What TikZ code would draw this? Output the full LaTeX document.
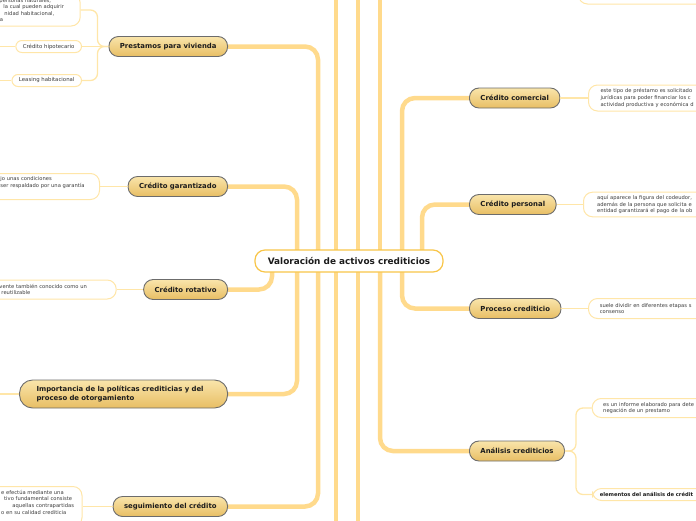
\documentclass[tikz,border=0pt]{standalone}
\usepackage{fontspec}
\setmainfont{DejaVu Sans}
\usetikzlibrary{positioning,backgrounds}
\setlength{\parindent}{0pt}
\definecolor{Ink}{HTML}{1C1C1C}
\definecolor{Grey}{HTML}{3C3C3C}
\definecolor{Trunk}{HTML}{FFDA8C}
\definecolor{Twig}{HTML}{FFE6A8}
\definecolor{Gold}{HTML}{F8C548}
\definecolor{TopHi}{HTML}{F9E5AB}
\definecolor{TopLo}{HTML}{E8BE64}
\definecolor{Edge}{HTML}{6C6C6C}
\newcommand{\pad}[1]{\hspace*{#1pt}}
\tikzset{
 every node/.style={text=Ink},
 root/.style={draw=Gold,line width=1.2pt,fill=white,rounded corners=10pt,minimum width=188pt,minimum height=22pt,font=\fontsize{8.9}{10}\selectfont\bfseries},
 topic/.style={draw=Edge,line width=.9pt,top color=TopHi,bottom color=TopLo,rounded corners=9.5pt,minimum height=20pt,inner xsep=11pt,font=\fontsize{6.9}{8}\selectfont\bfseries},
 note/.style={draw=Twig,line width=1pt,fill=white,rounded corners=9pt,align=left,inner xsep=4pt,inner ysep=3pt,text=Grey,font=\fontsize{5.2}{6.6}\selectfont},
 rnote/.style={note,anchor=west,text width=140pt,inner xsep=12pt},
 lnote/.style={note,anchor=east,text width=130pt},
 leaf/.style={note,anchor=east,rounded corners=6pt,minimum height=12pt,inner xsep=7pt,font=\fontsize{5.4}{6.5}\selectfont},
 trunk/.style={draw=Trunk,line width=4.5pt,rounded corners=13pt},
 twig/.style={draw=Twig,line width=1.3pt,rounded corners=7pt},
}
\begin{document}
\begin{tikzpicture}[x=1pt,y=-1pt]
\useasboundingbox (0,0) rectangle (696,520);
\node[root] (val) at (349,261) {Valoración de activos crediticios};
% ramas izquierda
\node[topic,anchor=east] (viv) at (228,46.5) {Prestamos para vivienda};
\node[topic,anchor=east] (gar) at (228,186.5) {Crédito garantizado};
\node[topic,anchor=east] (rot) at (228,289.5) {Crédito rotativo};
\node[topic,anchor=east,text width=174pt,inner xsep=17pt,minimum height=28pt,rounded corners=13pt,align=left,font=\fontsize{6.9}{9.4}\selectfont\bfseries] (imp) at (228,394) {Importancia de la políticas crediticias y del\\proceso de otorgamiento};
\node[topic,anchor=east] (seg) at (228,506.5) {seguimiento del crédito};
% ramas derecha
\node[topic,anchor=west] (com) at (469,98) {Crédito comercial};
\node[topic,anchor=west] (per) at (469,204.5) {Crédito personal};
\node[topic,anchor=west] (pro) at (469,308.5) {Proceso crediticio};
\node[topic,anchor=west] (ana) at (469,451) {Análisis crediticios};
% notas (texto cortado a la izquierda)
\node[lnote,minimum height=32pt] (vivn) at (80.7,10) {\pad{53.3}personas naturales,\\\pad{57.3}la cual pueden adquirir\\\pad{58.3}nidad habitacional,\\\pad{53.8}a};
\node[leaf] (hip) at (82,46.5) {Crédito hipotecario};
\node[leaf] (lea) at (82,80.5) {Leasing habitacional};
\node[lnote,minimum height=26pt] (garn) at (100,186.5) {\pad{35}jo unas condiciones\\\pad{35}ser respaldado por una garantía\\\strut};
\node[lnote,minimum height=19pt] (rotn) at (116.7,289.5) {\pad{17.3}vente también conocido como un\\\pad{19.3}reutilizable};
\node[lnote,minimum height=40pt] (segn) at (82.5,506.5) {\pad{53.2}e efectúa mediante una\\\pad{56.2}tivo fundamental consiste\\\pad{64.5}aquellas contrapartidas\\\pad{53.2}o en su calidad crediticia\\\strut};
% notas (texto cortado a la derecha)
\node[rnote,minimum height=26pt] (comn) at (588,98) {este tipo de préstamo es solicitado\\jurídicas para poder financiar los c\\actividad productiva y económica d};
\node[rnote,minimum height=24.6pt,inner xsep=13.7pt] (pern) at (583,204.5) {aquí aparece la figura del codeudor,\\además de la persona que solicita e\\entidad garantizará el pago de la ob};
\node[rnote,minimum height=20pt,inner xsep=11.3pt] (pron) at (588,308.5) {suele dividir en diferentes etapas s\\consenso};
\node[rnote,minimum height=19pt,inner xsep=11pt] (anat) at (591.7,408) {es un informe elaborado para dete\\negación de un prestamo};
\node[rnote,minimum height=12pt,inner xsep=7.3pt,font=\fontsize{5.2}{6.6}\selectfont\bfseries,text=Ink] (anab) at (592,494.5) {elementos del análisis de crédit};
\node[note,anchor=south west,minimum width=160pt,minimum height=30pt] (trn) at (578,4.5) {};
% conectores
\begin{scope}[on background layer]
\draw[trunk] ([xshift=-31pt]val.center) |- (viv.east);
\draw[trunk] ([xshift=-52pt]val.center) |- (gar.east);
\draw[trunk] ([xshift=-77pt]val.center) |- (rot.east);
\draw[trunk] ([xshift=-52pt]val.center) |- (imp.east);
\draw[trunk] ([xshift=-31pt]val.center) |- (seg.east);
\draw[trunk] ([xshift=53pt]val.center) |- (com.west);
\draw[trunk] ([xshift=73pt]val.center) |- (per.west);
\draw[trunk] ([xshift=53pt]val.center) |- (pro.west);
\draw[trunk] ([xshift=31pt]val.center) |- (ana.west);
\foreach \dx in {-13,9,31}
 \draw[trunk] ([xshift=\dx pt]val.center) -- ++(0,-290);
\foreach \dx in {-13,9}
 \draw[trunk] ([xshift=\dx pt]val.center) -- ++(0,290);
\end{scope}
\draw[twig] (viv.west) -- (hip.east);
\draw[twig] (viv.west) -- ++(-11,0) |- (vivn.east);
\draw[twig] (viv.west) -- ++(-11,0) |- (lea.east);
\draw[twig] (hip.west) -- ++(-20,0);
\draw[twig] (lea.west) -- ++(-15,0);
\draw[twig] (imp.west) -- ++(-25,0);
\draw[twig] (gar.west) -- (garn.east);
\draw[twig] (rot.west) -- (rotn.east);
\draw[twig] (seg.west) -- (segn.east);
\draw[twig] (com.east) -- (comn.west);
\draw[twig] (per.east) -- (pern.west);
\draw[twig] (pro.east) -- (pron.west);
\draw[twig] (ana.east) -- ++(11,0) |- (anat.west);
\draw[twig] (ana.east) -- ++(11,0) |- (anab.west);
\end{tikzpicture}
\end{document}
